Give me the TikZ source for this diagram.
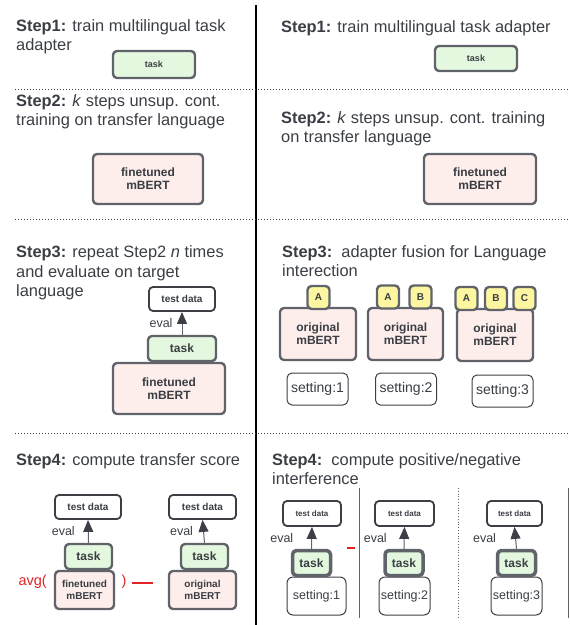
\documentclass[tikz,border=0pt]{standalone}
\usepackage{fontspec}
\setmainfont{Liberation Sans}
\usetikzlibrary{arrows.meta}
\definecolor{boxgray}{HTML}{60646A}
\definecolor{datadark}{HTML}{3C4046}
\definecolor{textdark}{HTML}{3A3E44}
\definecolor{taskgreen}{HTML}{E3F8DE}
\definecolor{bertpink}{HTML}{FDEEEC}
\definecolor{adyellow}{HTML}{FCF6A0}
\definecolor{avgred}{HTML}{E02424}
\tikzset{
box/.style={draw=boxgray,line width=2.4pt,rounded corners=4pt,inner sep=0pt,text=textdark,align=center,font=\fontsize{12}{13}\selectfont\bfseries},
taskbox/.style={box,fill=taskgreen},
bertbox/.style={box,fill=bertpink},
adbox/.style={box,fill=adyellow,minimum width=22pt,minimum height=23pt,font=\fontsize{10}{11}\selectfont\bfseries},
databox/.style={draw=datadark,line width=1.8pt,rounded corners=4pt,fill=white,inner sep=0pt,text=textdark,font=\fontsize{10}{11}\selectfont\bfseries},
setbox/.style={draw=datadark,line width=1pt,rounded corners=5pt,fill=white,inner sep=0pt,text=textdark,font=\fontsize{14}{15}\selectfont},
head/.style={anchor=base west,inner sep=0pt,text=textdark,font=\fontsize{16.4}{19}\selectfont},
evalarrow/.style={draw=boxgray,line width=1pt,-{Triangle[length=12pt,width=10pt,color=datadark]}},
evaltext/.style={text=textdark,inner sep=0pt,font=\fontsize{12.5}{13}\selectfont},
rowsep/.style={datadark,line width=1pt,dash pattern=on 1.2pt off 1.8pt},
}
\begin{document}
\begin{tikzpicture}[x=1pt,y=-1pt,line join=round]
\useasboundingbox (0,0) rectangle (570,625);
% frame lines
\draw[black,line width=1.5pt] (256,5)--(256,625);
\foreach \y in {89,219,433}
{\draw[rowsep] (15,\y)--(570,\y);}
% step texts
\foreach \n/\x/\y/\t in {
hA1/16/31/{\textbf{Step1:} train multilingual task},
hA2/16/50/{adapter},
hB1/16/106/{\textbf{Step2:} \textit{k} steps unsup. cont.},
hB2/16/125/{training on transfer language},
hC1/16/257/{\textbf{Step3:} repeat Step2 \textit{n} times},
hC2/16/277/{and evaluate on target},
hC3/16/296/{language},
hD1/16/465/{\textbf{Step4:} compute transfer score},
hE1/281/32/{\textbf{Step1:} train multilingual task adapter},
hF1/281/123/{\textbf{Step2:} \textit{k} steps unsup. cont. training},
hF2/281/142/{on transfer language},
hG1/282/257/{\textbf{Step3:}\ \ adapter fusion for Language},
hG2/282/276/{interection},
hH1/272/465/{\textbf{Step4:}\ \ compute positive/negative},
hH2/272/484/{interference}}
{\node[head] (\n) at (\x,\y) {\t};}
% left column
\node[taskbox,minimum width=82pt,minimum height=27pt,font=\fontsize{9}{10}\selectfont\bfseries] (tA) at (154,64.5) {task};
\node[bertbox,minimum width=110pt,minimum height=50pt] (bB) at (148,179) {finetuned\\mBERT};
\node[databox,minimum width=66pt,minimum height=24pt] (dC) at (182,299) {test data};
\node[taskbox,minimum width=68pt,minimum height=25pt] (tC) at (182,348.5) {task};
\node[bertbox,minimum width=112pt,minimum height=51pt] (bC) at (169,388.5) {finetuned\\mBERT};
\node[databox,minimum width=66pt,minimum height=24pt] (dD1) at (88,507) {test data};
\node[taskbox,minimum width=47pt,minimum height=25pt] (tD1) at (88.5,556.5) {task};
\node[bertbox,minimum width=59pt,minimum height=38pt,font=\fontsize{10}{11.5}\selectfont\bfseries] (bD1) at (84.5,590) {finetuned\\mBERT};
\node[databox,minimum width=67pt,minimum height=24pt] (dD2) at (202.5,507) {test data};
\node[taskbox,minimum width=47pt,minimum height=25pt] (tD2) at (204.5,556.5) {task};
\node[bertbox,minimum width=67pt,minimum height=38pt,font=\fontsize{10}{11.5}\selectfont\bfseries] (bD2) at (202.5,590) {original\\mBERT};
\node[text=avgred,anchor=east,inner sep=0pt,font=\fontsize{14.5}{15}\selectfont] (avg) at (47,582) {avg(};
\node[text=avgred,inner sep=0pt,font=\fontsize{14.5}{15}\selectfont] (close) at (124,582) {)};
\coordinate (mA) at (132,583);
\coordinate (mB) at (153,583);
\draw[avgred,line width=1.5pt] (mA)--(mB);
% right column
\node[taskbox,minimum width=82pt,minimum height=25pt,font=\fontsize{9}{10}\selectfont\bfseries] (tE) at (476,58.5) {task};
\node[bertbox,minimum width=112pt,minimum height=50pt] (bF) at (480,179) {finetuned\\mBERT};
\foreach \n/\x/\y/\w in {oG1/318/334/76,oG2/405.5/334/75,oG3/495/335/76}
{\node[bertbox,minimum width=\w pt,minimum height=52pt] (\n) at (\x,\y) {original\\mBERT};}
\foreach \n/\x/\y/\l in {aG1/318.5/297.5/A,aG2/388/297/A,bG2/420.5/297/B,aG3/466.5/298.5/A,bG3/496/298.5/B,cG3/524.5/298.5/C}
{\node[adbox] (\n) at (\x,\y) {\l};}
\foreach \n/\x/\y/\l in {sG1/317.5/389/1,sG2/406/389/2,sG3/502.5/391/3}
{\node[setbox,minimum width=61pt,minimum height=32pt] (\n) at (\x,\y) {setting:\l};}
% step4 right
\draw[boxgray,line width=1pt] (359,488)--(359,618);
\draw[boxgray,line width=1pt] (568,488)--(568,618);
\draw[boxgray,line width=0.8pt,dotted] (458,488)--(458,618);
\foreach \n/\x/\dw/\tx/\sx/\sw/\l in {H1/312/58/311.5/316.5/59/1,H2/404.5/59/404/404.5/51/2,H3/514.5/55/516.5/516.5/51/3}
{\node[databox,minimum width=\dw pt,minimum height=25pt,font=\fontsize{8}{9}\selectfont\bfseries] (d\n) at (\x,513.5) {test data};
\node[setbox,minimum width=\sw pt,minimum height=38pt,rounded corners=6pt,font=\fontsize{12.5}{13}\selectfont] (s\n) at (\sx,596) {setting:\l};
\node[taskbox,line width=3.5pt,minimum width=38pt,minimum height=25pt] (t\n) at (\tx,563) {task};}
\coordinate (mC) at (347,548);
\coordinate (mD) at (355,548);
\draw[avgred,line width=1.5pt] (mC)--(mD);
% eval arrows
\foreach \t/\d/\g in {tC/dC/9pt,tD1/dD1/13pt,tD2/dD2/10pt,tH1/dH1/18pt,tH2/dH2/17pt,tH3/dH3/19pt}
{\draw[evalarrow] (\t.north)--(\d.south) node[midway,left=\g,evaltext] (e\t) {eval};}
\end{tikzpicture}
\end{document}
